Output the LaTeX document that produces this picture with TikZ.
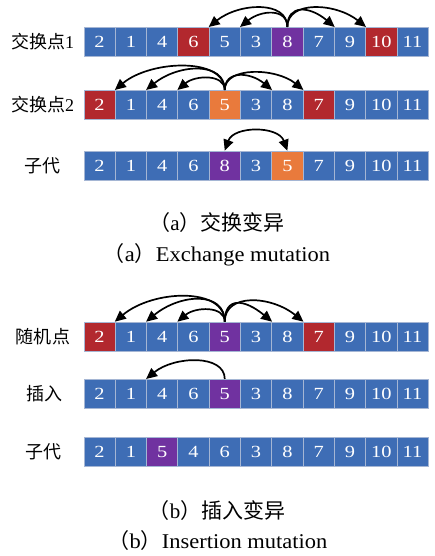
\documentclass[tikz,border=0pt]{standalone}
\usepackage{fontspec}
\setmainfont{Liberation Serif}
\newfontfamily\cjk{Noto Sans CJK SC}
\newfontfamily\digfont[FakeStretch=1.2]{Liberation Serif}
\newfontfamily\capfont[FakeStretch=1.07]{Liberation Serif}
\usetikzlibrary{arrows.meta}
\definecolor{cblue}{RGB}{62,109,181}
\definecolor{cred}{RGB}{178,40,46}
\definecolor{cpurple}{RGB}{112,50,160}
\definecolor{corange}{RGB}{233,122,60}
\definecolor{cborder}{RGB}{165,182,212}
\tikzset{
  cell/.style={draw=cborder, line width=0.8pt, minimum width=31.3pt, minimum height=29.5pt,
    inner sep=0pt, anchor=north west, text=white, font=\digfont\fontsize{17}{17}\selectfont},
  arr/.style={line width=1.7pt, -{Triangle[length=11pt,width=10pt]}},
  dbl/.style={line width=1.7pt, {Triangle[length=11pt,width=10pt]}-{Triangle[length=11pt,width=10pt]}},
  rowlab/.style={font=\fontsize{18}{18}\selectfont, inner sep=0pt},
  captxt/.style={font=\fontsize{21}{21}\selectfont, inner sep=0pt},
}
\begin{document}
\begin{tikzpicture}[x=1pt,y=1pt]
\useasboundingbox (0,0) rectangle (434,556);
% row 1
\foreach \v/\c [count=\i from 0] in {2/cblue,1/cblue,4/cblue,6/cred,5/cblue,3/cblue,8/cpurple,7/cblue,9/cblue,10/cred,11/cblue}
  \node[cell,fill=\c] (a\i) at ({83.5+31.3*\i},{556-27}) {\v};
% row 2
\foreach \v/\c [count=\i from 0] in {2/cred,1/cblue,4/cblue,6/cblue,5/corange,3/cblue,8/cblue,7/cred,9/cblue,10/cblue,11/cblue}
  \node[cell,fill=\c] (b\i) at ({83.5+31.3*\i},{556-90}) {\v};
% row 3
\foreach \v/\c [count=\i from 0] in {2/cblue,1/cblue,4/cblue,6/cblue,8/cpurple,3/cblue,5/corange,7/cblue,9/cblue,10/cblue,11/cblue}
  \node[cell,fill=\c] (c\i) at ({83.5+31.3*\i},{556-150.7}) {\v};
% row 4
\foreach \v/\c [count=\i from 0] in {2/cred,1/cblue,4/cblue,6/cblue,5/cpurple,3/cblue,8/cblue,7/cred,9/cblue,10/cblue,11/cblue}
  \node[cell,fill=\c] (d\i) at ({83.5+31.3*\i},{556-321.7}) {\v};
% row 5
\foreach \v/\c [count=\i from 0] in {2/cblue,1/cblue,4/cblue,6/cblue,5/cpurple,3/cblue,8/cblue,7/cblue,9/cblue,10/cblue,11/cblue}
  \node[cell,fill=\c] (e\i) at ({83.5+31.3*\i},{556-379}) {\v};
% row 6
\foreach \v/\c [count=\i from 0] in {2/cblue,1/cblue,5/cpurple,4/cblue,6/cblue,3/cblue,8/cblue,7/cblue,9/cblue,10/cblue,11/cblue}
  \node[cell,fill=\c] (f\i) at ({83.5+31.3*\i},{556-436.7}) {\v};

% labels
\node[rowlab] (la) at (42.5,{556-41.8}) {{\cjk 交换点}1};
\node[rowlab] (lb) at (42.5,{556-104.8}) {{\cjk 交换点}2};
\node[rowlab] (lc) at (42.5,{556-165.5}) {\cjk 子代};
\node[rowlab] (ld) at (43,{556-336.5}) {\cjk 随机点};
\node[rowlab] (le) at (44,{556-394}) {\cjk 插入};
\node[rowlab] (lf) at (43,{556-451.7}) {\cjk 子代};

% captions
\node[captxt] (capa1) at (217,{556-223}) {{\cjk （}a{\cjk ）交换变异}};
\node[captxt,anchor=base] (capa2) at (217,{556-261.5}) {{\cjk （}\capfont a{\cjk ）}Exchange mutation};
\node[captxt] (capb1) at (217,{556-510.7}) {{\cjk （}b{\cjk ）插入变异}};
\node[captxt,anchor=base] (capb2) at (218,{556-548.3}) {{\cjk （}\capfont b{\cjk ）}Insertion mutation};

% arrows row 1
\draw[arr] (a6.north) .. controls +(0,27) and +(30,24) .. (a4.north west);
\draw[arr] (a6.north) .. controls +(0,19) and +(21,17) .. (a5.north west);
\draw[arr] (a6.north) .. controls +(0,23) and +(-25,21) .. (a7.north east);
\draw[arr] (a6.north) .. controls +(0,27) and +(-30,24) .. (a8.north east);
% arrows row 2
\draw[arr] (b4.north) .. controls +(0,33) and +(36,30) .. (b1.north west);
\draw[arr] (b4.north) .. controls +(0,29) and +(32,26) .. (b2.north west);
\draw[arr] (b4.north) .. controls +(0,16) and +(18,15) .. (b3.north west);
\draw[arr] (b4.north) .. controls +(0,20) and +(-22,18) .. (b5.north east);
\draw[arr] (b4.north) .. controls +(0,24) and +(-27,22) .. (b6.north east);
% arrow row 3
\draw[dbl] (c4.north) .. controls +(9,25) and +(-9,25) .. (c6.north);
% arrows row 4
\draw[arr] (d4.north) .. controls +(0,35) and +(38,32) .. (d1.north west);
\draw[arr] (d4.north) .. controls +(0,31) and +(34,28) .. (d2.north west);
\draw[arr] (d4.north) .. controls +(0,16) and +(18,15) .. (d3.north west);
\draw[arr] (d4.north) .. controls +(0,25) and +(-28,23) .. (d5.north east);
\draw[arr] (d4.north) .. controls +(0,29) and +(-32,26) .. (d6.north east);
% arrow row 5
\draw[arr] (e4.north) .. controls +(0,25) and +(28,23) .. (e2.north west);
\end{tikzpicture}
\end{document}
